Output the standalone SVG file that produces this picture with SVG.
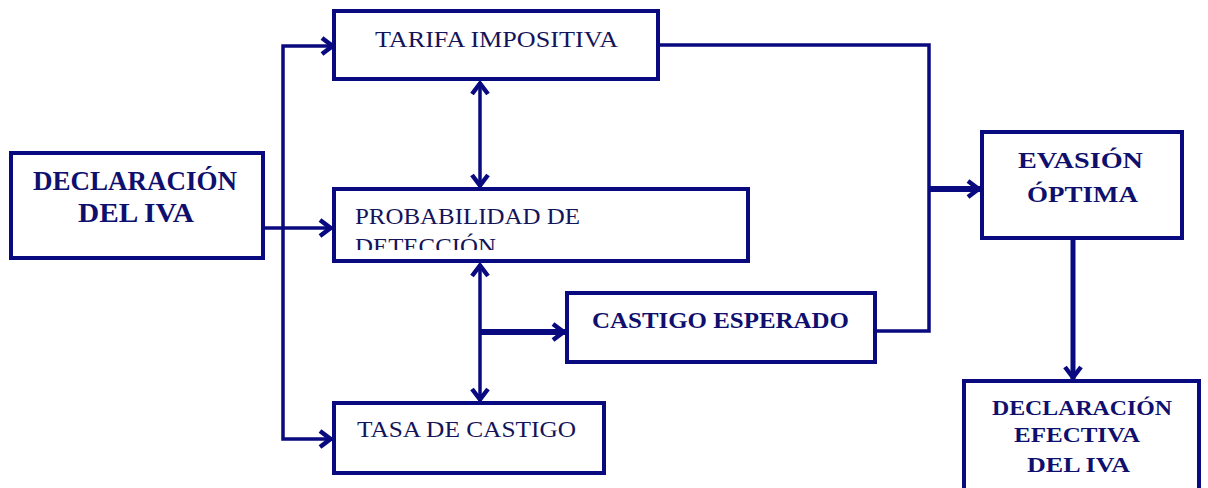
<svg xmlns="http://www.w3.org/2000/svg" width="1208" height="488" viewBox="0 0 1208 488">
<style>
.box{fill:#fff;stroke:#0a0a80;stroke-width:4}
.ln{fill:none;stroke:#0a0a80;stroke-width:3.5;stroke-linejoin:miter}
.thk{stroke-width:6}
.t{font-family:"Liberation Serif","Times New Roman",serif;fill:#14145a;font-size:23px}
.b{font-weight:bold;fill:#0f0f6e}
</style>
<defs>
<marker id="ah" markerUnits="userSpaceOnUse" viewBox="0 0 16 20" refX="14.5" refY="10" markerWidth="16" markerHeight="20" orient="auto-start-reverse">
<path d="M2.5,2 L13,10 L2.5,18" fill="none" stroke="#0a0a80" stroke-width="4.5" stroke-linejoin="miter"/>
</marker>
<clipPath id="probclip"><rect x="334" y="189" width="414" height="61"/></clipPath>
</defs>
<rect width="1208" height="488" fill="#fff"/>
<g id="connectors">
<path class="ln" d="M334,46 H283 V439 H332" marker-start="url(#ah)" marker-end="url(#ah)"/>
<path class="ln" d="M263,228 H332" marker-end="url(#ah)"/>
<path class="ln" d="M480,82 V187" marker-start="url(#ah)" marker-end="url(#ah)"/>
<path class="ln" d="M480,264 V401" marker-start="url(#ah)" marker-end="url(#ah)"/>
<path class="ln thk" d="M480,332 H565" marker-end="url(#ah)"/>
<path class="ln" d="M658,45 H929 V331 H875"/>
<path class="ln thk" d="M929,189 H980" marker-end="url(#ah)"/>
<path class="ln" style="stroke-width:5" d="M1073,238 V379" marker-end="url(#ah)"/>
</g>
<g id="declaracion-iva">
<rect class="box" x="11" y="153" width="252" height="105"/>
<text class="t b" x="33" y="190" textLength="204" lengthAdjust="spacingAndGlyphs" style="font-size:27px">DECLARACIÓN</text>
<text class="t b" x="78" y="222" textLength="116" lengthAdjust="spacingAndGlyphs" style="font-size:27px">DEL IVA</text>
</g>
<g id="tarifa-impositiva">
<rect class="box" x="334" y="11" width="324" height="68"/>
<text class="t" x="375" y="47" textLength="243" lengthAdjust="spacingAndGlyphs">TARIFA IMPOSITIVA</text>
</g>
<g id="probabilidad-deteccion">
<rect class="box" x="334" y="189" width="414" height="72"/>
<g clip-path="url(#probclip)">
<text class="t" x="355" y="224" textLength="225" lengthAdjust="spacingAndGlyphs" style="font-size:24px">PROBABILIDAD DE</text>
<text class="t" x="355" y="254" textLength="141" lengthAdjust="spacingAndGlyphs" style="font-size:24px">DETECCIÓN</text>
</g>
</g>
<g id="castigo-esperado">
<rect class="box" x="567" y="293" width="308" height="69"/>
<text class="t b" x="592" y="328" textLength="257" lengthAdjust="spacingAndGlyphs" style="font-size:24px">CASTIGO ESPERADO</text>
</g>
<g id="tasa-castigo">
<rect class="box" x="334" y="403" width="270" height="70"/>
<text class="t" x="357" y="437" textLength="219" lengthAdjust="spacingAndGlyphs" style="font-size:24px">TASA DE CASTIGO</text>
</g>
<g id="evasion-optima">
<rect class="box" x="982" y="132" width="200" height="106"/>
<text class="t b" x="1018" y="168" textLength="125" lengthAdjust="spacingAndGlyphs">EVASIÓN</text>
<text class="t b" x="1027" y="202" textLength="111" lengthAdjust="spacingAndGlyphs">ÓPTIMA</text>
</g>
<g id="declaracion-efectiva">
<rect class="box" x="964" y="381" width="235" height="112"/>
<text class="t b" x="992" y="415" textLength="180" lengthAdjust="spacingAndGlyphs" style="font-size:22px">DECLARACIÓN</text>
<text class="t b" x="1014" y="442" textLength="126" lengthAdjust="spacingAndGlyphs" style="font-size:22px">EFECTIVA</text>
<text class="t b" x="1027" y="472" textLength="103" lengthAdjust="spacingAndGlyphs" style="font-size:22px">DEL IVA</text>
</g>
</svg>
